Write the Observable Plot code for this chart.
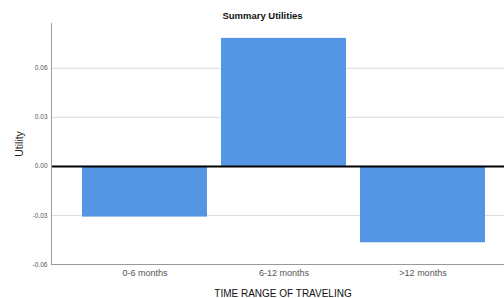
<!DOCTYPE html>
<html>
<head>
<meta charset="utf-8">
<script src="https://cdn.jsdelivr.net/npm/d3@7"></script>
<script src="https://cdn.jsdelivr.net/npm/@observablehq/plot@0.6"></script>
<style>
  html, body { margin: 0; padding: 0; background: #fff; }
  #chart svg { display: block; }
</style>
</head>
<body>
<div id="chart"></div>
<script>
const categories = ["0-6 months", "6-12 months", ">12 months"];
const utilities = [-0.031, 0.0783, -0.0467];
const yTicks = [-0.06, -0.03, 0, 0.03, 0.06];
const titleText = "Summary Utilities";
const yLabel = "Utility";
const xLabel = "TIME RANGE OF TRAVELING";

const data = categories.map((c, i) => ({cat: c, u: utilities[i]}));

const chart = Plot.plot({
  width: 504,
  height: 298,
  marginLeft: 51,
  marginRight: 0,
  marginTop: 23,
  marginBottom: 34,
  style: {fontFamily: "'Liberation Sans', Arial, sans-serif", background: "#fff"},
  x: {domain: categories, range: [51, 516], paddingInner: 0.1, paddingOuter: 0.216, label: null},
  y: {domain: [-0.06, 0.0874], label: null},
  marks: [
    Plot.gridY(yTicks, {stroke: "#dcdcdc", strokeOpacity: 1, strokeWidth: 1}),
    Plot.barY(data, {x: "cat", y: "u", fill: "#5596E4"}),
    Plot.ruleY([0], {stroke: "#000", strokeWidth: 2}),
    Plot.frame({anchor: "left", stroke: "#999"}),
    Plot.frame({anchor: "bottom", stroke: "#999"}),
    Plot.axisY(yTicks, {tickSize: 0, tickPadding: 4, tickFormat: d => d.toFixed(2), fontSize: 6.5, fill: "#555", label: null}),
    Plot.axisX({tickSize: 0, tickPadding: 5, fontSize: 9, fill: "#555", label: null}),
    Plot.text([yLabel], {frameAnchor: "left", rotate: -90, dx: -32, textAnchor: "middle", lineAnchor: "middle", fontSize: 10.5, fill: "#222"}),
    Plot.text([xLabel], {frameAnchor: "bottom", dy: 29, dx: 5, textAnchor: "middle", lineAnchor: "middle", fontSize: 10, fontWeight: 500, fill: "#111"}),
    Plot.text([titleText], {frameAnchor: "top", dy: -7.5, dx: -15.5, textAnchor: "middle", lineAnchor: "middle", fontSize: 9.5, fontWeight: "bold", fill: "#111"})
  ]
});
document.getElementById("chart").append(chart);
</script>
</body>
</html>
